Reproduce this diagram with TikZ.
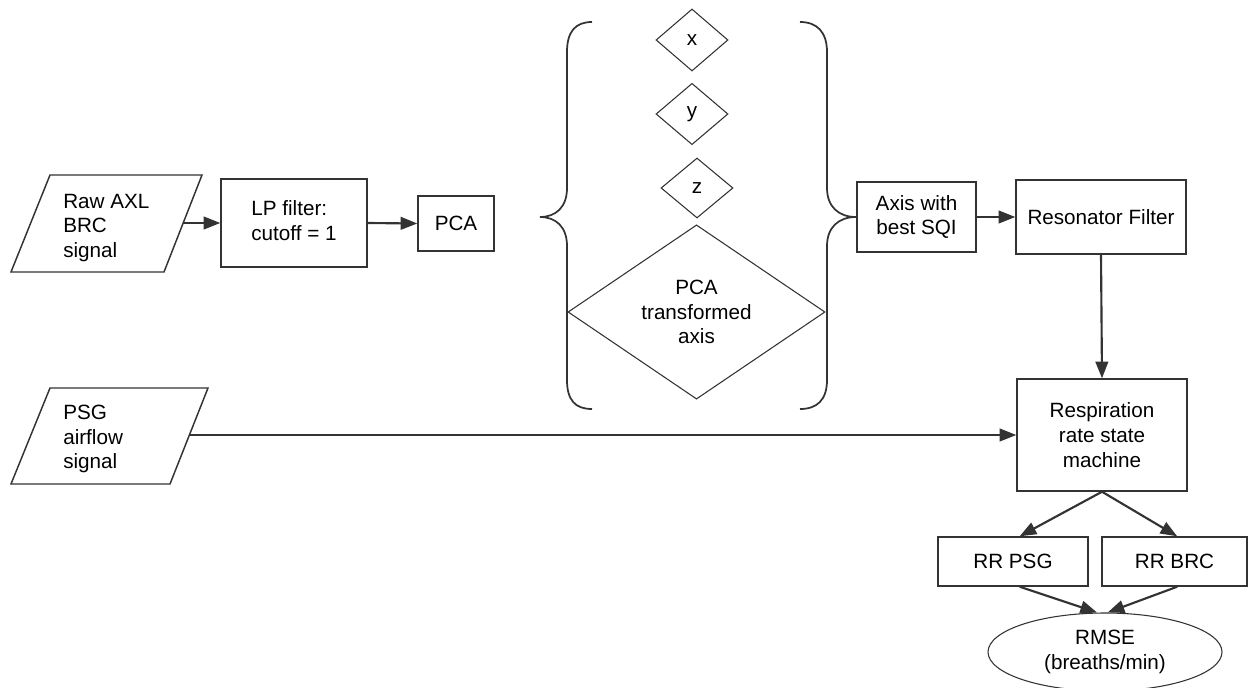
\documentclass[tikz,border=0pt]{standalone}
\usepackage{fontspec}
\setmainfont{Liberation Sans}
\usetikzlibrary{shapes.geometric,arrows.meta}
\definecolor{linegray}{RGB}{51,51,51}
\tikzset{
  txt/.style={inner sep=0pt, font=\fontsize{15.5}{18.5}\selectfont},
  box/.style={txt, draw=linegray, line width=1.1pt, align=center},
  iotext/.style={txt, align=left, anchor=west},
  choice/.style={txt, diamond, draw=linegray, line width=0.8pt, align=center},
  flow/.style={draw=linegray, line width=1.6pt, -{Triangle[length=12.5pt,width=9.5pt]}},
  bracket/.style={draw=linegray, line width=1.3pt},
}
\begin{document}
\begin{tikzpicture}[x=0.75pt,y=0.75pt,yscale=-1]
\useasboundingbox (0,0) rectangle (1249,688);

%Shape: Parallelogram (raw input)
\draw [linegray, line width=1.1pt] (50,175) -- (202,175) -- (164,272) -- (11,272) -- cycle ;
\coordinate (rawout) at (183,223);
% Text Node
\node (raw) at (63,228) [iotext] {Raw AXL\\BRC\\signal};

%Shape: Parallelogram (psg input)
\draw [linegray, line width=1.1pt] (50,388) -- (208,388) -- (170,484) -- (11,484) -- cycle ;
\coordinate (psgout) at (190,435);
% Text Node
\node (psg) at (63,439) [iotext] {PSG\\airflow\\signal};

%Shape: Rectangle
\node (lp) at (294,223) [box, minimum width=109.5pt, minimum height=66pt] {\begin{tabular}{@{}l@{}}LP filter:\\cutoff = 1\end{tabular}};
\node (pca) at (456,223.5) [box, minimum width=57pt, minimum height=41.25pt] {PCA};

%Shape: Diamond
\node (ax) at (692,40) [choice, minimum width=54pt, minimum height=46.5pt] {x};
\node (ay) at (692,114) [choice, minimum width=54pt, minimum height=46pt] {y};
\node (az) at (697,188) [choice, minimum width=54pt, minimum height=45pt] {z};
\node (apca) at (696.5,312) [choice, minimum width=192.75pt, minimum height=120pt] {PCA\\transformed\\axis};

%Curve Lines: left brace
\draw [bracket] (592,22) .. controls (575,22) and (567,32) .. (567,52) -- (567,188) .. controls (567,207) and (556,217) .. (540,217) .. controls (556,217) and (567,227) .. (567,246) -- (567,380) .. controls (567,400) and (575,409) .. (592,409) ;
%Curve Lines: right brace
\draw [bracket] (800,22) .. controls (817,22) and (827,32) .. (827,52) -- (827,188) .. controls (827,207) and (839,217) .. (856,217) .. controls (839,217) and (827,227) .. (827,246) -- (827,380) .. controls (827,400) and (817,409) .. (800,409) ;

%Shape: Rectangle
\node (best) at (916.5,217) [box, minimum width=89.25pt, minimum height=52.5pt] {Axis with\\best SQI};
\node (reso) at (1101,217) [box, minimum width=127.5pt, minimum height=55.5pt] {Resonator Filter};
\node (resp) at (1102,435) [box, minimum width=127.5pt, minimum height=84pt] {Respiration\\rate state\\machine};
\node (rrpsg) at (1013,561.5) [box, minimum width=112.5pt, minimum height=36.75pt] {RR PSG};
\node (rrbrc) at (1174.5,561.5) [box, minimum width=108.75pt, minimum height=36.75pt] {RR BRC};

%Shape: Ellipse
\node (rmse) at (1105,652) [txt, ellipse, draw=linegray, line width=0.8pt, align=center, minimum width=175.5pt, minimum height=58.5pt] {RMSE\\(breaths/min)};

%Straight Lines
\draw [flow] (rawout) -- (lp.west);
\draw [flow] (lp.east) -- (pca.west);
\draw [flow] (best.east) -- (reso.west);
\draw [flow] (reso.south) -- (resp.north);
\draw [flow] (psgout) -- (resp.west);
\draw [flow] (resp.south) -- ([xshift=5pt]rrpsg.north);
\draw [flow] (resp.south) -- ([xshift=2pt]rrbrc.north);
\draw [flow] ([xshift=5pt]rrpsg.south) -- ([xshift=-6pt]rmse.north);
\draw [flow] ([xshift=2pt]rrbrc.south) -- ([xshift=2pt]rmse.north);

\end{tikzpicture}
\end{document}
